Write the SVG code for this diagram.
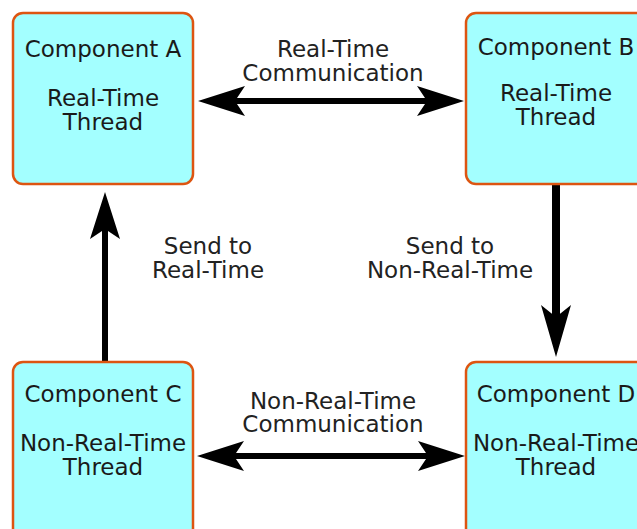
<svg xmlns="http://www.w3.org/2000/svg" width="637" height="529" viewBox="0 0 637 529">
  <style>
    .box { fill: #a3ffff; stroke: #dd5511; stroke-width: 2.5; }
    .ntext { font-family: "DejaVu Sans", "Liberation Sans", sans-serif; font-size: 23px; fill: #1a1a1a; text-anchor: middle; }
    .ltext { font-family: "DejaVu Sans", "Liberation Sans", sans-serif; font-size: 23px; fill: #222; text-anchor: middle; }
    .wire { fill: none; stroke: #000; stroke-width: 6; }
  </style>
  <defs>
    <marker id="head" markerUnits="userSpaceOnUse" viewBox="-50 -17 52 34" refX="-37" refY="0" markerWidth="52" markerHeight="34" orient="auto-start-reverse">
      <path d="M0,0 L-47,-15 L-37,0 L-47,15 Z" fill="#000"/>
    </marker>
    <marker id="head-lg" markerUnits="userSpaceOnUse" viewBox="-55 -17 57 34" refX="-40" refY="0" markerWidth="57" markerHeight="34" orient="auto-start-reverse">
      <path d="M0,0 L-52,-15 L-40,0 L-52,15 Z" fill="#000"/>
    </marker>
  </defs>

  <g id="connectors">
    <path class="wire" d="M235,101 H427" marker-start="url(#head)" marker-end="url(#head)"/>
    <path class="wire" d="M234,456 H428" marker-start="url(#head)" marker-end="url(#head)"/>
    <path class="wire" d="M105,361 V229" marker-end="url(#head)"/>
    <path class="wire" d="M556,185 V317" style="stroke-width:8" marker-end="url(#head-lg)"/>
    <text class="ltext" x="333" y="57">Real-Time</text>
    <text class="ltext" x="333" y="81">Communication</text>
    <text class="ltext" x="333" y="409">Non-Real-Time</text>
    <text class="ltext" x="333" y="432">Communication</text>
    <text class="ltext" x="208" y="254">Send to</text>
    <text class="ltext" x="208" y="278">Real-Time</text>
    <text class="ltext" x="450" y="254">Send to</text>
    <text class="ltext" x="450" y="278">Non-Real-Time</text>
  </g>

  <g id="component-a">
    <rect class="box" x="13" y="13" width="180" height="171" rx="10"/>
    <text class="ntext" x="103" y="57">Component A</text>
    <text class="ntext" x="103" y="106">Real-Time</text>
    <text class="ntext" x="103" y="130">Thread</text>
  </g>

  <g id="component-b">
    <rect class="box" x="466" y="13" width="180" height="171" rx="10"/>
    <text class="ntext" x="556" y="55">Component B</text>
    <text class="ntext" x="556" y="101">Real-Time</text>
    <text class="ntext" x="556" y="125">Thread</text>
  </g>

  <g id="component-c">
    <rect class="box" x="13" y="362" width="180" height="180" rx="10"/>
    <text class="ntext" x="103" y="402">Component C</text>
    <text class="ntext" x="103" y="451">Non-Real-Time</text>
    <text class="ntext" x="103" y="475">Thread</text>
  </g>

  <g id="component-d">
    <rect class="box" x="466" y="362" width="180" height="180" rx="10"/>
    <text class="ntext" x="556" y="402">Component D</text>
    <text class="ntext" x="556" y="451">Non-Real-Time</text>
    <text class="ntext" x="556" y="475">Thread</text>
  </g>
</svg>
